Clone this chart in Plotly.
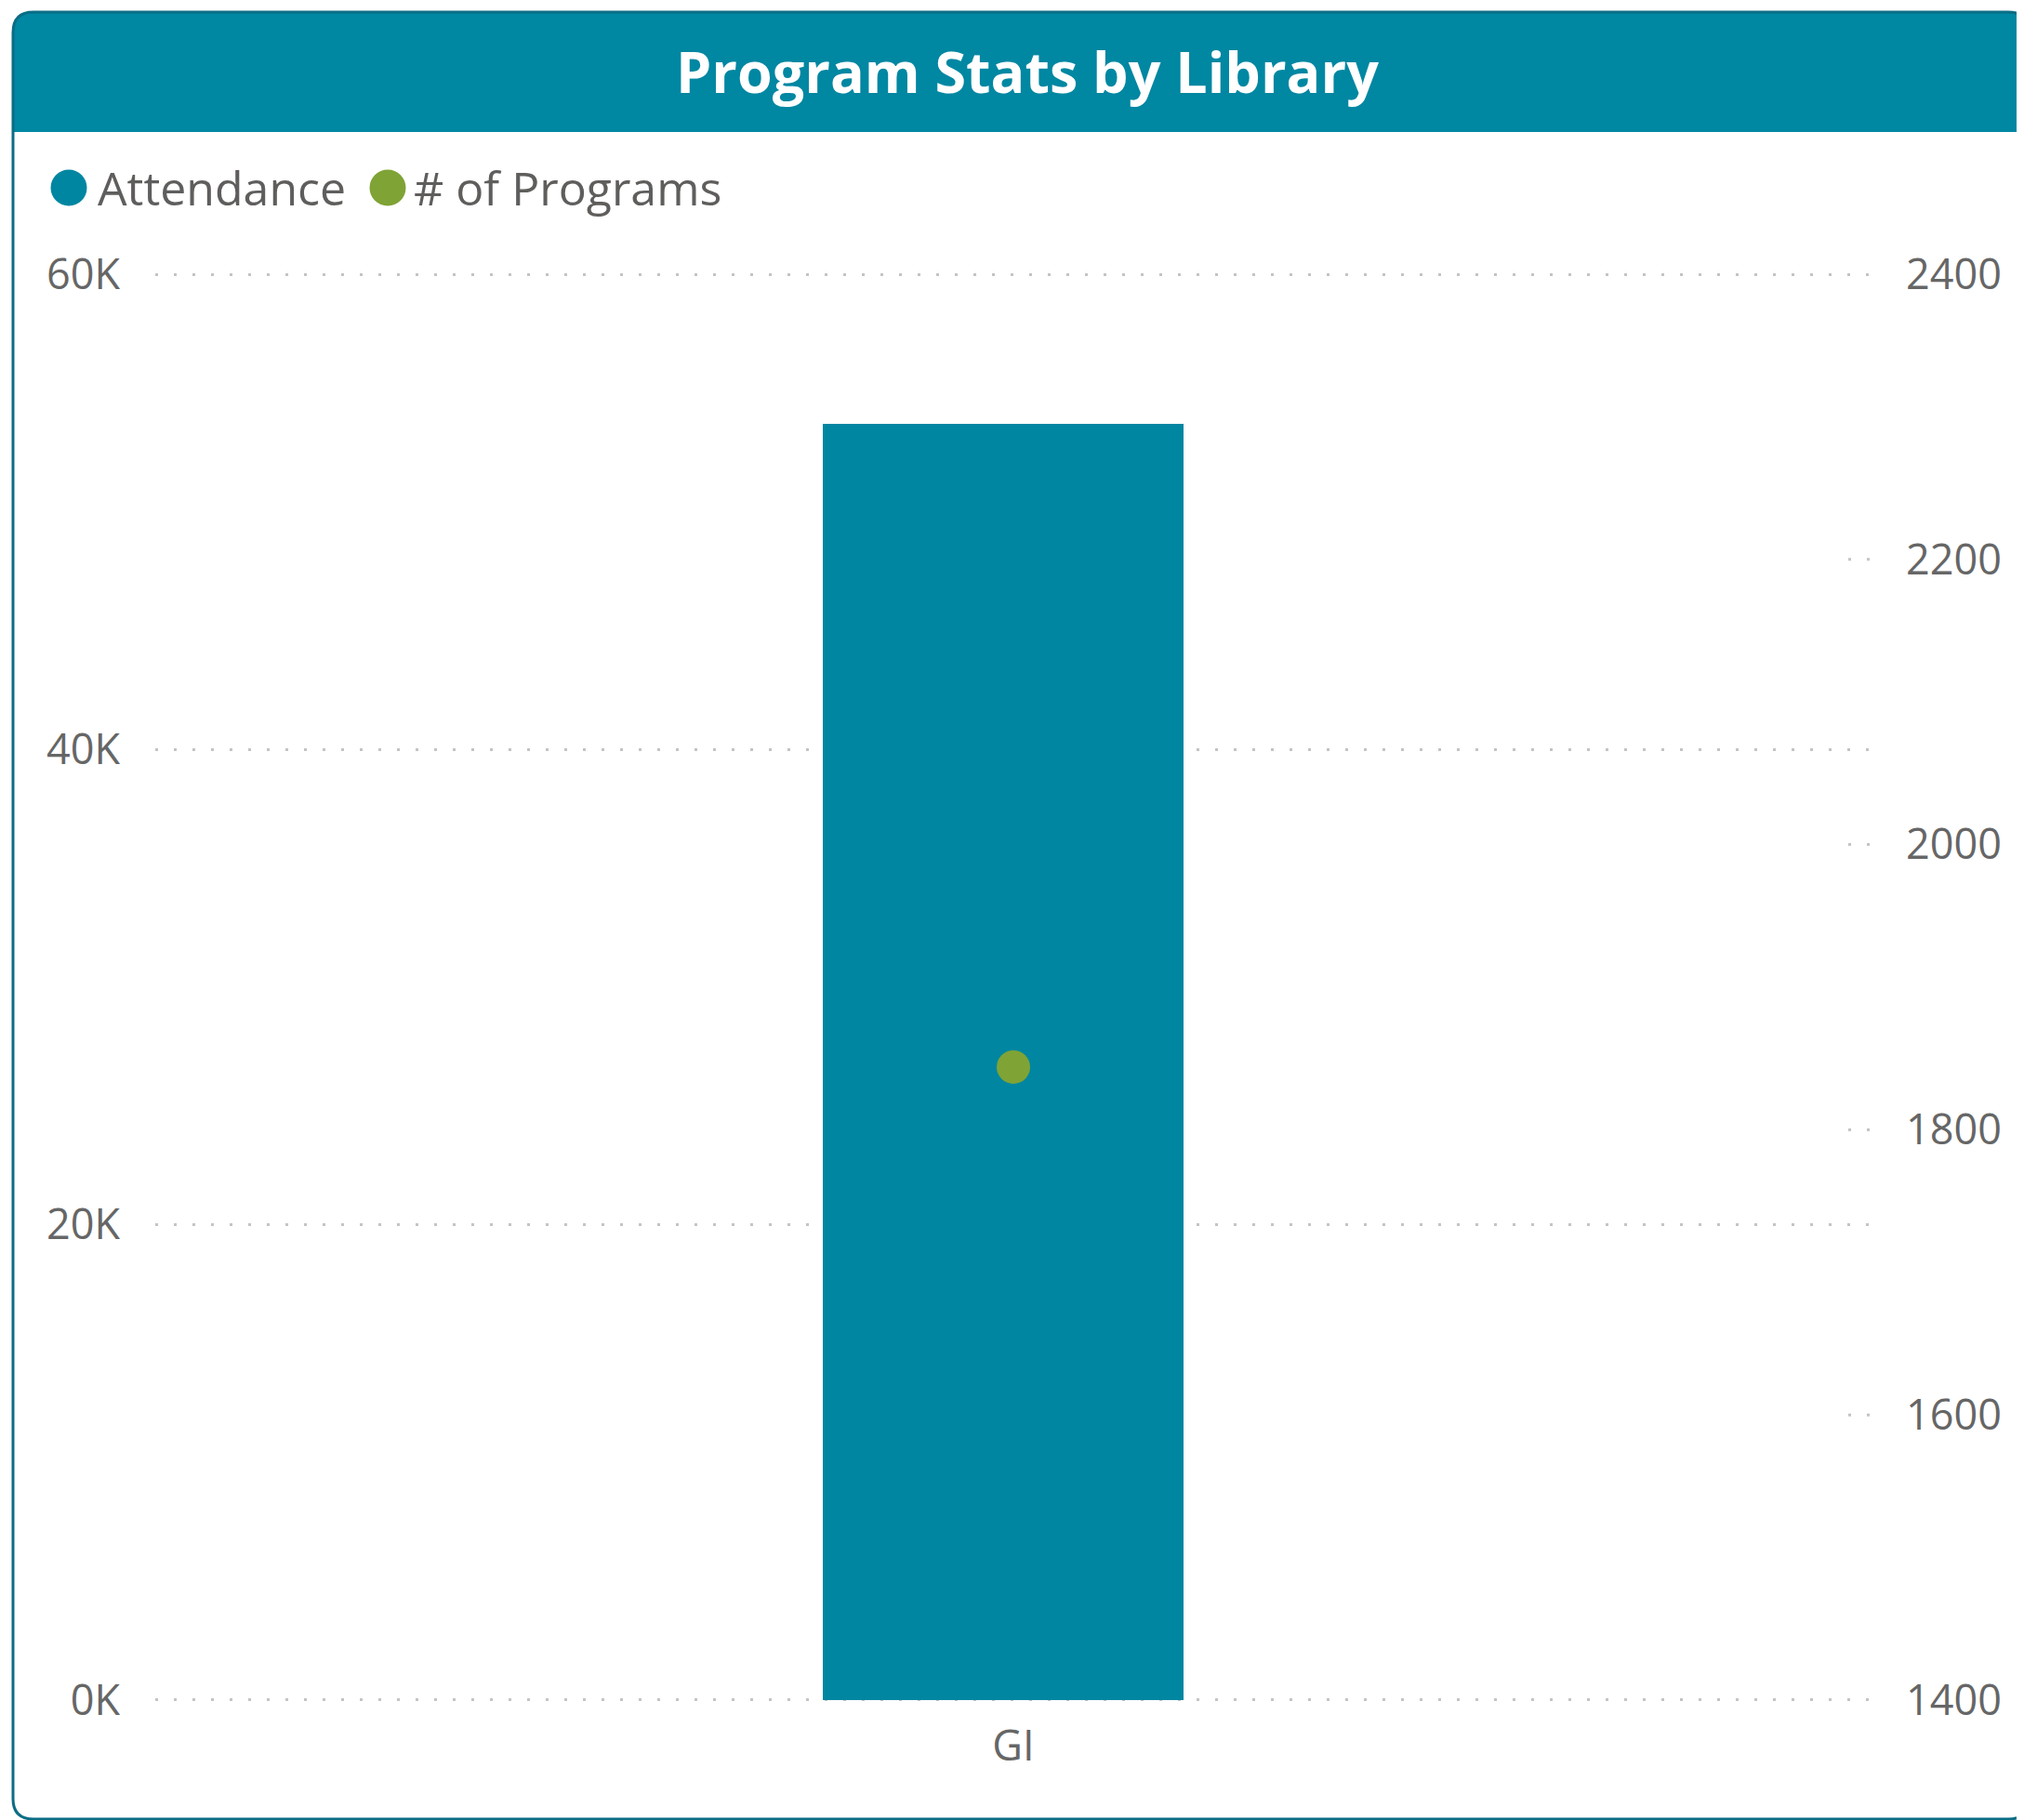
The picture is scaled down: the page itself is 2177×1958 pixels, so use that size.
import plotly.graph_objects as go

# ---- data ----
libraries = ["GI"]
attendance = [53700]
num_programs = [1844]

left_tickvals = [0, 20000, 40000, 60000]
left_ticktext = ["0K", "20K", "40K", "60K"]
right_tickvals = [1400, 1600, 1800, 2000, 2200, 2400]
right_ticktext = ["1400", "1600", "1800", "2000", "2200", "2400"]

title_text = "Program Stats by Library"
legend_names = ["Attendance", "# of Programs"]

# ---- style ----
OFF = 8  # default page body margin
W, H = 2177 - OFF, 1958 - OFF
ML, MR, MT, MB = 167 - OFF, 164, 294 - OFF, 128
PW = W - ML - MR
PH = H - MT - MB
TEAL = "#0086A1"
HEADER = "#0087A2"
BORDER = "#0B6D85"
GREEN = "#7FA335"
TXT = "#605E5C"
TICK = "#666666"
GRID = "#C4C4C4"
FONT = "Open Sans"


def px(x):
    """reference-page pixel x -> paper"""
    return (x - OFF - ML) / PW


def py(y):
    """reference-page pixel y -> paper"""
    return (H - MB - (y - OFF)) / PH


fig = go.Figure()
fig.add_trace(go.Bar(
    x=libraries, y=attendance, name=legend_names[0],
    marker=dict(color=TEAL, line=dict(width=0)),
    width=0.21, offset=-0.111, showlegend=False,
))
fig.add_trace(go.Scatter(
    x=libraries, y=num_programs, name=legend_names[1], yaxis="y2",
    mode="markers", marker=dict(color=GREEN, size=36, line=dict(width=0)),
    showlegend=False,
))

shapes = []
x0, x1, y0, y1, r = 14, 2182, 13, 1957, 22
card = (f"M {px(x0)},{py(y0 + r)} "
        f"Q {px(x0)},{py(y0)} {px(x0 + r)},{py(y0)} "
        f"L {px(x1 - r)},{py(y0)} Q {px(x1)},{py(y0)} {px(x1)},{py(y0 + r)} "
        f"L {px(x1)},{py(y1 - r)} Q {px(x1)},{py(y1)} {px(x1 - r)},{py(y1)} "
        f"L {px(x0 + r)},{py(y1)} Q {px(x0)},{py(y1)} {px(x0)},{py(y1 - r)} Z")
hy = 142
header = (f"M {px(x0)},{py(hy)} L {px(x0)},{py(y0 + r)} "
          f"Q {px(x0)},{py(y0)} {px(x0 + r)},{py(y0)} "
          f"L {px(x1 - r)},{py(y0)} Q {px(x1)},{py(y0)} {px(x1)},{py(y0 + r)} "
          f"L {px(x1)},{py(hy)} Z")
shapes.append(dict(type="path", path=header, xref="paper", yref="paper",
                   fillcolor=HEADER, line=dict(width=0), layer="below"))
shapes.append(dict(type="path", path=card, xref="paper", yref="paper",
                   fillcolor="rgba(0,0,0,0)", line=dict(color=BORDER, width=3), layer="above"))

# short right-axis grid stubs
for v in right_tickvals[1:-1]:
    shapes.append(dict(type="line", xref="paper", yref="y2",
                       x0=px(1988), x1=px(2013), y0=v, y1=v,
                       line=dict(color=GRID, width=3, dash="3px,17px"), layer="below"))

# legend markers
leg_circle_x = [74, 417]
leg_text_x = [103, 443]
leg_y = 202
leg_colors = [TEAL, GREEN]
annotations = []
for cx, tx, name, col in zip(leg_circle_x, leg_text_x, legend_names, leg_colors):
    shapes.append(dict(type="circle", xref="paper", yref="paper",
                       x0=px(cx - 19.5), x1=px(cx + 19.5), y0=py(leg_y + 19.5), y1=py(leg_y - 19.5),
                       fillcolor=col, line=dict(width=0)))
    annotations.append(dict(text=name, x=px(tx), y=py(leg_y), xref="paper", yref="paper",
                            xanchor="left", yanchor="middle", showarrow=False,
                            font=dict(family=FONT, size=50, color=TXT)))

annotations.append(dict(text=f"<b>{title_text}</b>", x=px(1105), y=py(76),
                        xref="paper", yref="paper", xanchor="center", yanchor="middle",
                        showarrow=False, font=dict(family=FONT, size=61, color="white")))

pad = 40
fig.update_layout(
    width=W, height=H,
    margin=dict(l=ML, r=MR, t=MT, b=MB, pad=0),
    paper_bgcolor="white", plot_bgcolor="white",
    showlegend=False,
    shapes=shapes, annotations=annotations,
    xaxis=dict(type="category", range=[-0.5, 0.5], showgrid=False, zeroline=False,
               showline=False, ticks="", ticklabelstandoff=18,
               tickfont=dict(family=FONT, size=45, color=TICK)),
    yaxis=dict(range=[-pad, 60000 + pad], tickvals=left_tickvals, ticktext=left_ticktext,
               showgrid=True, gridcolor=GRID, gridwidth=3, griddash="3px,17px",
               zeroline=False, showline=False, ticks="", ticklabelstandoff=37,
               tickfont=dict(family=FONT, size=45, color=TICK)),
    yaxis2=dict(range=[1400 - pad / 60, 2400 + pad / 60], tickvals=right_tickvals,
                ticktext=right_ticktext,
                overlaying="y", side="right", showgrid=False, zeroline=False,
                showline=False, ticks="", ticklabelstandoff=36,
                tickfont=dict(family=FONT, size=45, color=TICK)),
    bargap=0,
)

fig.write_html("out.html")
